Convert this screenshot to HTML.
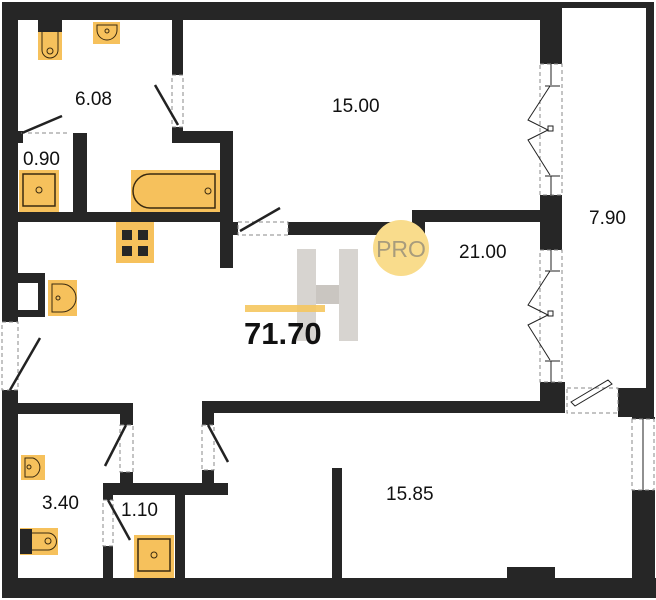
<!DOCTYPE html>
<html><head><meta charset="utf-8"><style>
html,body{margin:0;padding:0;background:#fff;}
svg{display:block;}
text{font-family:"Liberation Sans",sans-serif;fill:#111;}
</style></head><body>
<svg width="656" height="600" viewBox="0 0 656 600" xmlns="http://www.w3.org/2000/svg">
<g fill="#262626">
<rect x="2" y="2" width="560" height="18"/>
<rect x="562" y="2" width="92" height="6"/>
<rect x="646" y="2" width="8" height="388"/>
<rect x="2" y="2" width="16" height="320"/>
<rect x="2" y="390" width="16" height="208"/>
<rect x="2" y="578" width="654" height="20"/>
<rect x="507" y="567" width="48" height="12"/>
<rect x="618" y="388" width="36" height="29"/>
<rect x="632" y="417" width="23" height="2"/>
<rect x="632" y="490" width="23" height="90"/>
<rect x="540" y="2" width="22" height="62"/>
<rect x="540" y="195" width="22" height="55"/>
<rect x="540" y="382" width="25" height="31"/>
<rect x="172" y="20" width="11" height="55"/>
<rect x="172" y="127" width="11" height="16"/>
<rect x="172" y="131" width="61" height="12"/>
<rect x="220" y="131" width="13" height="137"/>
<rect x="18" y="212" width="215" height="10"/>
<rect x="73" y="133" width="14" height="79"/>
<rect x="18" y="131" width="5" height="12"/>
<rect x="233" y="222" width="5" height="13"/>
<rect x="288" y="222" width="137" height="13"/>
<rect x="412" y="210" width="13" height="25"/>
<rect x="412" y="210" width="128" height="12"/>
<rect x="18" y="273" width="27" height="10"/>
<rect x="38" y="273" width="7" height="44"/>
<rect x="18" y="310" width="27" height="7"/>
<rect x="18" y="403" width="115" height="11"/>
<rect x="120" y="403" width="13" height="22"/>
<rect x="120" y="472" width="13" height="14"/>
<rect x="202" y="401" width="12" height="24"/>
<rect x="202" y="401" width="338" height="12"/>
<rect x="202" y="470" width="12" height="14"/>
<rect x="103" y="483" width="125" height="12"/>
<rect x="103" y="495" width="10" height="5"/>
<rect x="103" y="546" width="10" height="32"/>
<rect x="175" y="495" width="10" height="83"/>
<rect x="332" y="468" width="10" height="110"/>
</g>
<g stroke="#888" stroke-width="1" stroke-dasharray="4,3" fill="none">
<rect x="172" y="75" width="11" height="52"/>
<line x1="21" y1="133" x2="70" y2="133"/>
<rect x="238" y="222" width="50" height="13"/>
<rect x="2" y="322" width="16" height="68"/>
<rect x="120" y="425" width="13" height="47"/>
<rect x="202" y="425" width="12" height="45"/>
<rect x="103" y="500" width="10" height="46"/>
<rect x="540" y="64" width="22" height="131"/>
<rect x="540" y="250" width="22" height="132"/>
<rect x="567" y="388" width="51" height="25"/>
<rect x="632" y="419" width="22" height="71"/>
</g>
<g stroke="#222" stroke-width="2.5" fill="none">
<line x1="155" y1="85" x2="178" y2="125"/>
<line x1="22" y1="133" x2="62" y2="116"/>
<line x1="240" y1="231" x2="280" y2="208"/>
<line x1="10" y1="390" x2="40" y2="338"/>
<line x1="126" y1="425" x2="105" y2="466"/>
<line x1="208" y1="425" x2="228" y2="462"/>
<line x1="108" y1="500" x2="130" y2="540"/>
</g>
<g stroke="#222" stroke-width="1" fill="none">
<path d="M551 64 V85 M545 86 H560 M550 86 L528 120 L548 130 L528 140 L550 175 M545 176 H560 M551 176 V195"/>
<rect x="548" y="126" width="5" height="5"/>
<path d="M551 250 V270 M545 271 H560 M550 271 L528 305 L548 315 L528 325 L550 360 M545 361 H560 M551 361 V382"/>
<rect x="548" y="311" width="5" height="5"/>
<path d="M571 402 L608 380 L612 384 L575 406 Z"/>
<line x1="643" y1="419" x2="643" y2="490"/>
</g>
<g fill="#f6c15c" stroke="#3a2a10" stroke-width="1">
<rect x="38" y="20" width="24" height="40" stroke="none"/>
<rect x="38" y="20" width="24" height="12" fill="#262626" stroke="none"/>
<path d="M42 32 V50 a8 8 0 0 0 16 0 V32"/>
<rect x="93" y="22" width="27" height="22" stroke="none"/>
<path d="M97 25 H117 V30 a10 10 0 0 1 -20 0 Z"/>
<rect x="19" y="170" width="40" height="42" stroke="none"/>
<rect x="23" y="174" width="32" height="32" stroke-width="1.5"/>
<rect x="131" y="170" width="89" height="42" stroke="none"/>
<path d="M150 174 H215 V208 H150 a17 17 0 0 1 0 -34 Z" stroke-width="1.5"/>
<rect x="116" y="222" width="38" height="41" stroke="none"/>
<rect x="48" y="280" width="29" height="36" stroke="none"/>
<path d="M52 284 H62 a14 14 0 0 1 0 28 H52 Z"/>
<rect x="21" y="455" width="24" height="25" stroke="none"/>
<path d="M25 458 H33 a10 10 0 0 1 0 19 H25 Z"/>
<rect x="20" y="528" width="38" height="27" stroke="none"/>
<rect x="20" y="529" width="12" height="25" fill="#262626" stroke="none"/>
<path d="M32 533 H48 a8 8 0 0 1 0 17 H32"/>
<rect x="134" y="535" width="40" height="43" stroke="none"/>
<rect x="138" y="539" width="32" height="32" stroke-width="1.5"/>
</g>
<g fill="#262626"><rect x="122" y="230" width="10" height="10"/><rect x="138" y="230" width="10" height="10"/><rect x="122" y="246" width="10" height="10"/><rect x="138" y="246" width="10" height="10"/></g>
<g fill="none" stroke="#3a2a10" stroke-width="1">
<circle cx="50" cy="51" r="3"/><circle cx="107" cy="31" r="2"/><circle cx="39" cy="190" r="3"/><circle cx="208" cy="191" r="3"/><circle cx="58" cy="298" r="2"/><circle cx="29" cy="467" r="2"/><circle cx="48" cy="541" r="3"/><circle cx="154" cy="555" r="3"/>
</g>
<g opacity="0.55">
<rect x="297" y="249" width="19" height="92" fill="#b8b2aa"/>
<rect x="339" y="249" width="19" height="92" fill="#b8b2aa"/>
<rect x="316" y="285" width="23" height="19" fill="#a09890"/>
</g>
<rect x="245" y="305" width="80" height="7" fill="#f5c65f" opacity="0.9"/>
<circle cx="401" cy="248" r="28" fill="#f9dc8c"/>
<text x="401" y="257" font-size="23" text-anchor="middle" style="fill:#a89c7c">PRO</text>
<text x="244" y="344" font-size="31" font-weight="bold">71.70</text>
<g font-size="19">
<text x="75" y="105">6.08</text>
<text x="23" y="165">0.90</text>
<text x="332" y="112">15.00</text>
<text x="459" y="258">21.00</text>
<text x="589" y="224">7.90</text>
<text x="42" y="509">3.40</text>
<text x="121" y="516">1.10</text>
<text x="386" y="500">15.85</text>
</g>
</svg>
</body></html>
